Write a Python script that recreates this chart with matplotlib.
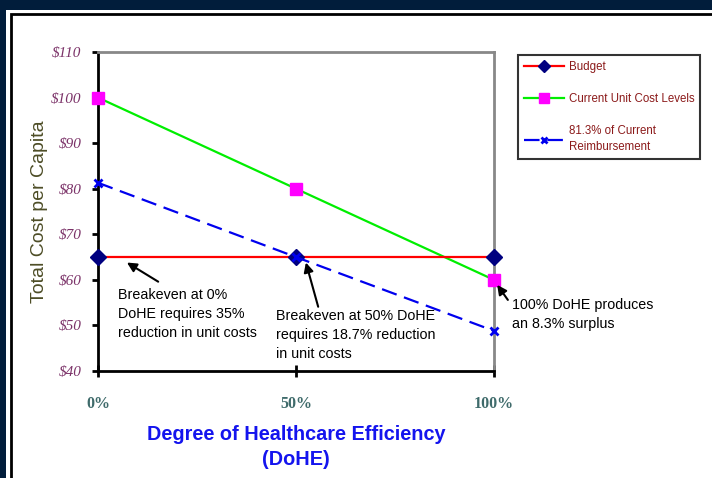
import matplotlib.pyplot as plt
from matplotlib.patches import Rectangle

efficiency = [0, 50, 100]
budget = [65, 65, 65]
current_cost = [100, 80, 60]
reimbursement = [81.3, 65, 48.8]
y_ticks = [40, 50, 60, 70, 80, 90, 100, 110]
x_ticks = [0, 50, 100]

W, H = 712, 478
fig = plt.figure(figsize=(W / 100, H / 100), dpi=100)
fig.patch.set_facecolor('#011d3b')

# white slide panel and black frame
fig.patches.append(Rectangle((6 / W, 0), 1, 1 - 10 / H, transform=fig.transFigure,
                             facecolor='white', edgecolor='none', zorder=-2))
fig.patches.append(Rectangle((11 / W, -0.01), 1, 1 - 14 / H + 0.01, transform=fig.transFigure,
                             facecolor='none', edgecolor='black', lw=2, zorder=-1))

ax = fig.add_axes([98 / W, 1 - 371 / H, 396 / W, 319 / H])
ax.set_zorder(3)
ax.set_facecolor('white')

ax.plot(efficiency, budget, color='red', lw=1.6, marker='D', ms=8,
        mfc='#000080', mec='#000080', clip_on=False, zorder=4, label='Budget')
ax.plot(efficiency, current_cost, color='#00ee00', lw=1.6, marker='s', ms=9,
        mfc='magenta', mec='magenta', clip_on=False, zorder=3, label='Current Unit Cost Levels')
ax.plot(efficiency, reimbursement, color='#0000ee', lw=1.6, ls=(0, (7, 3.5)), marker='x', ms=6,
        mew=2, clip_on=False, zorder=5, label='81.3% of Current\nReimbursement')

ax.set_xlim(0, 100)
ax.set_ylim(40, 110)
for s in ['left', 'bottom']:
    ax.spines[s].set_color('black')
    ax.spines[s].set_linewidth(2)
for s in ['top', 'right']:
    ax.spines[s].set_color('#888888')
    ax.spines[s].set_linewidth(2)

ax.set_yticks(y_ticks)
ax.set_yticklabels(['$%d' % v for v in y_ticks], fontfamily='Liberation Serif',
                   fontstyle='italic', fontsize=11, color='#7b3268')
ax.tick_params(axis='y', direction='out', length=4, width=2, pad=8)

ax.set_xticks(x_ticks)
ax.set_xticklabels(['%d%%' % v for v in x_ticks], fontfamily='Liberation Serif',
                   fontweight='bold', fontsize=11.5, color='#3f6b6b')
ax.tick_params(axis='x', direction='inout', length=8, width=2, pad=14)

ax.set_ylabel('Total Cost per Capita', fontfamily='Liberation Sans', fontsize=14,
              color='#4d4d26', labelpad=2)
ax.set_xlabel('Degree of Healthcare Efficiency\n(DoHE)', fontfamily='Liberation Sans',
              fontsize=14.3, fontweight='bold', color='#1414ee', labelpad=9,
              linespacing=1.42)

arrow = dict(arrowstyle='-|>', color='black', lw=1.5, mutation_scale=14, shrinkA=0, shrinkB=0)
txt = dict(fontfamily='Liberation Sans', fontsize=10.3, color='black', va='top', ha='left',
           linespacing=1.45)

ax.annotate('', xy=(7.3, 63.8), xytext=(15.2, 59.6), arrowprops=arrow)
ax.text(5.0, 58.3, 'Breakeven at 0%\nDoHE requires 35%\nreduction in unit costs', **txt)

ax.annotate('', xy=(52.5, 63.8), xytext=(55.6, 54.1), arrowprops=arrow)
ax.text(45.0, 53.6, 'Breakeven at 50% DoHE\nrequires 18.7% reduction\nin unit costs', **txt)

ax.annotate('', xy=(100.8, 58.9), xytext=(103.5, 55.6), arrowprops=arrow, annotation_clip=False)
ax.text(104.5, 56.1, '100% DoHE produces\nan 8.3% surplus', clip_on=False, **txt)

leg = fig.legend(loc='upper left', bbox_to_anchor=(518 / W, 1 - 55 / H),
                 prop={'family': 'Liberation Sans', 'size': 8.3}, frameon=True,
                 fancybox=False, edgecolor='black', labelspacing=1.75, handlelength=3.5,
                 handletextpad=0.4, borderpad=0.5, borderaxespad=0, markerscale=0.8)
leg.get_frame().set_linewidth(1.5)
leg.set_zorder(6)
for t in leg.get_texts():
    t.set_color('#8b1a1a')
    t.set_linespacing(1.45)

fig.savefig('out.png', dpi=100, facecolor=fig.get_facecolor())
